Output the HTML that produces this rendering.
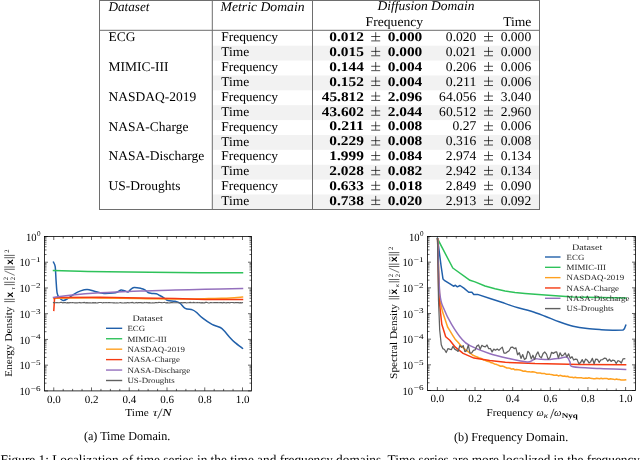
<!DOCTYPE html><html><head><meta charset="utf-8"><style>
html,body{margin:0;padding:0;background:#fff;width:640px;height:460px;overflow:hidden}
svg{display:block;will-change:transform} text{font-family:"Liberation Serif",serif;text-rendering:geometricPrecision}
</style></head><body><svg width="640" height="460" viewBox="0 0 640 460"><rect x="212.9" y="45.68" width="99" height="14.88" fill="#f2f2f2"/><rect x="313.1" y="45.68" width="226" height="14.88" fill="#f2f2f2"/><rect x="212.9" y="75.44" width="99" height="14.88" fill="#f2f2f2"/><rect x="313.1" y="75.44" width="226" height="14.88" fill="#f2f2f2"/><rect x="212.9" y="105.20" width="99" height="14.88" fill="#f2f2f2"/><rect x="313.1" y="105.20" width="226" height="14.88" fill="#f2f2f2"/><rect x="212.9" y="134.96" width="99" height="14.88" fill="#f2f2f2"/><rect x="313.1" y="134.96" width="226" height="14.88" fill="#f2f2f2"/><rect x="212.9" y="164.72" width="99" height="14.88" fill="#f2f2f2"/><rect x="313.1" y="164.72" width="226" height="14.88" fill="#f2f2f2"/><rect x="212.9" y="194.48" width="99" height="14.88" fill="#f2f2f2"/><rect x="313.1" y="194.48" width="226" height="14.88" fill="#f2f2f2"/><rect x="99" y="0" width="441" height="1" fill="#6e6e6e"/><rect x="99" y="29.8" width="441" height="1" fill="#6e6e6e"/><rect x="99" y="209" width="441" height="1" fill="#6e6e6e"/><rect x="99" y="0" width="1" height="210" fill="#6e6e6e"/><rect x="211.8" y="0" width="1" height="210" fill="#6e6e6e"/><rect x="312" y="0" width="1" height="210" fill="#6e6e6e"/><rect x="539" y="0" width="1" height="210" fill="#6e6e6e"/><text x="108.40" y="10.60" font-size="13.2" font-style="italic" text-anchor="start" fill="#000">Dataset</text><text x="220.60" y="10.50" font-size="13.2" font-style="italic" text-anchor="start" fill="#000" textLength="84.00" lengthAdjust="spacingAndGlyphs">Metric Domain</text><text x="377.40" y="10.40" font-size="13.2" font-style="italic" text-anchor="start" fill="#000" textLength="97.20" lengthAdjust="spacingAndGlyphs">Diffusion Domain</text><text x="365.60" y="25.90" font-size="13.2" text-anchor="start" fill="#000" textLength="57.60" lengthAdjust="spacingAndGlyphs">Frequency</text><text x="531.40" y="25.90" font-size="13.2" text-anchor="end" fill="#000" textLength="28.20" lengthAdjust="spacingAndGlyphs">Time</text><text x="108.50" y="41.40" font-size="13.2" text-anchor="start" fill="#000" textLength="26.98" lengthAdjust="spacingAndGlyphs">ECG</text><text x="221.20" y="41.40" font-size="13.2" text-anchor="start" fill="#000" textLength="56.83" lengthAdjust="spacingAndGlyphs">Frequency</text><text x="363.90" y="41.10" font-size="13.2" font-weight="bold" text-anchor="end" fill="#000" textLength="34.57" lengthAdjust="spacingAndGlyphs">0.012</text><path d="M371.20,36.50h9M375.70,32.20v8.3M371.20,40.90h9" stroke="#000" stroke-width="0.7" fill="none"/><text x="422.30" y="41.10" font-size="13.2" font-weight="bold" text-anchor="end" fill="#000" textLength="34.57" lengthAdjust="spacingAndGlyphs">0.000</text><text x="476.40" y="41.10" font-size="13.2" text-anchor="end" fill="#000" textLength="30.55" lengthAdjust="spacingAndGlyphs">0.020</text><path d="M484.00,36.50h9M488.50,32.20v8.3M484.00,40.90h9" stroke="#000" stroke-width="0.7" fill="none"/><text x="531.20" y="41.10" font-size="13.2" text-anchor="end" fill="#000" textLength="30.55" lengthAdjust="spacingAndGlyphs">0.000</text><text x="221.20" y="56.28" font-size="13.2" text-anchor="start" fill="#000" textLength="27.94" lengthAdjust="spacingAndGlyphs">Time</text><text x="363.90" y="55.98" font-size="13.2" font-weight="bold" text-anchor="end" fill="#000" textLength="34.57" lengthAdjust="spacingAndGlyphs">0.015</text><path d="M371.20,51.38h9M375.70,47.08v8.3M371.20,55.78h9" stroke="#000" stroke-width="0.7" fill="none"/><text x="422.30" y="55.98" font-size="13.2" font-weight="bold" text-anchor="end" fill="#000" textLength="34.57" lengthAdjust="spacingAndGlyphs">0.000</text><text x="476.40" y="55.98" font-size="13.2" text-anchor="end" fill="#000" textLength="30.55" lengthAdjust="spacingAndGlyphs">0.021</text><path d="M484.00,51.38h9M488.50,47.08v8.3M484.00,55.78h9" stroke="#000" stroke-width="0.7" fill="none"/><text x="531.20" y="55.98" font-size="13.2" text-anchor="end" fill="#000" textLength="30.55" lengthAdjust="spacingAndGlyphs">0.000</text><text x="108.50" y="71.16" font-size="13.2" text-anchor="start" fill="#000" textLength="59.94" lengthAdjust="spacingAndGlyphs">MIMIC-III</text><text x="221.20" y="71.16" font-size="13.2" text-anchor="start" fill="#000" textLength="56.83" lengthAdjust="spacingAndGlyphs">Frequency</text><text x="363.90" y="70.86" font-size="13.2" font-weight="bold" text-anchor="end" fill="#000" textLength="34.57" lengthAdjust="spacingAndGlyphs">0.144</text><path d="M371.20,66.26h9M375.70,61.96v8.3M371.20,70.66h9" stroke="#000" stroke-width="0.7" fill="none"/><text x="422.30" y="70.86" font-size="13.2" font-weight="bold" text-anchor="end" fill="#000" textLength="34.57" lengthAdjust="spacingAndGlyphs">0.004</text><text x="476.40" y="70.86" font-size="13.2" text-anchor="end" fill="#000" textLength="30.55" lengthAdjust="spacingAndGlyphs">0.206</text><path d="M484.00,66.26h9M488.50,61.96v8.3M484.00,70.66h9" stroke="#000" stroke-width="0.7" fill="none"/><text x="531.20" y="70.86" font-size="13.2" text-anchor="end" fill="#000" textLength="30.55" lengthAdjust="spacingAndGlyphs">0.006</text><text x="221.20" y="86.04" font-size="13.2" text-anchor="start" fill="#000" textLength="27.94" lengthAdjust="spacingAndGlyphs">Time</text><text x="363.90" y="85.74" font-size="13.2" font-weight="bold" text-anchor="end" fill="#000" textLength="34.57" lengthAdjust="spacingAndGlyphs">0.152</text><path d="M371.20,81.14h9M375.70,76.84v8.3M371.20,85.54h9" stroke="#000" stroke-width="0.7" fill="none"/><text x="422.30" y="85.74" font-size="13.2" font-weight="bold" text-anchor="end" fill="#000" textLength="34.57" lengthAdjust="spacingAndGlyphs">0.004</text><text x="476.40" y="85.74" font-size="13.2" text-anchor="end" fill="#000" textLength="30.55" lengthAdjust="spacingAndGlyphs">0.211</text><path d="M484.00,81.14h9M488.50,76.84v8.3M484.00,85.54h9" stroke="#000" stroke-width="0.7" fill="none"/><text x="531.20" y="85.74" font-size="13.2" text-anchor="end" fill="#000" textLength="30.55" lengthAdjust="spacingAndGlyphs">0.006</text><text x="108.50" y="100.92" font-size="13.2" text-anchor="start" fill="#000" textLength="87.69" lengthAdjust="spacingAndGlyphs">NASDAQ-2019</text><text x="221.20" y="100.92" font-size="13.2" text-anchor="start" fill="#000" textLength="56.83" lengthAdjust="spacingAndGlyphs">Frequency</text><text x="363.90" y="100.62" font-size="13.2" font-weight="bold" text-anchor="end" fill="#000" textLength="42.16" lengthAdjust="spacingAndGlyphs">45.812</text><path d="M371.20,96.02h9M375.70,91.72v8.3M371.20,100.42h9" stroke="#000" stroke-width="0.7" fill="none"/><text x="422.30" y="100.62" font-size="13.2" font-weight="bold" text-anchor="end" fill="#000" textLength="34.57" lengthAdjust="spacingAndGlyphs">2.096</text><text x="476.40" y="100.62" font-size="13.2" text-anchor="end" fill="#000" textLength="37.27" lengthAdjust="spacingAndGlyphs">64.056</text><path d="M484.00,96.02h9M488.50,91.72v8.3M484.00,100.42h9" stroke="#000" stroke-width="0.7" fill="none"/><text x="531.20" y="100.62" font-size="13.2" text-anchor="end" fill="#000" textLength="30.55" lengthAdjust="spacingAndGlyphs">3.040</text><text x="221.20" y="115.80" font-size="13.2" text-anchor="start" fill="#000" textLength="27.94" lengthAdjust="spacingAndGlyphs">Time</text><text x="363.90" y="115.50" font-size="13.2" font-weight="bold" text-anchor="end" fill="#000" textLength="42.16" lengthAdjust="spacingAndGlyphs">43.602</text><path d="M371.20,110.90h9M375.70,106.60v8.3M371.20,115.30h9" stroke="#000" stroke-width="0.7" fill="none"/><text x="422.30" y="115.50" font-size="13.2" font-weight="bold" text-anchor="end" fill="#000" textLength="34.57" lengthAdjust="spacingAndGlyphs">2.044</text><text x="476.40" y="115.50" font-size="13.2" text-anchor="end" fill="#000" textLength="37.27" lengthAdjust="spacingAndGlyphs">60.512</text><path d="M484.00,110.90h9M488.50,106.60v8.3M484.00,115.30h9" stroke="#000" stroke-width="0.7" fill="none"/><text x="531.20" y="115.50" font-size="13.2" text-anchor="end" fill="#000" textLength="30.55" lengthAdjust="spacingAndGlyphs">2.960</text><text x="108.50" y="130.68" font-size="13.2" text-anchor="start" fill="#000" textLength="79.93" lengthAdjust="spacingAndGlyphs">NASA-Charge</text><text x="221.20" y="130.68" font-size="13.2" text-anchor="start" fill="#000" textLength="56.83" lengthAdjust="spacingAndGlyphs">Frequency</text><text x="363.90" y="130.38" font-size="13.2" font-weight="bold" text-anchor="end" fill="#000" textLength="34.57" lengthAdjust="spacingAndGlyphs">0.211</text><path d="M371.20,125.78h9M375.70,121.48v8.3M371.20,130.18h9" stroke="#000" stroke-width="0.7" fill="none"/><text x="422.30" y="130.38" font-size="13.2" font-weight="bold" text-anchor="end" fill="#000" textLength="34.57" lengthAdjust="spacingAndGlyphs">0.008</text><text x="476.40" y="130.38" font-size="13.2" text-anchor="end" fill="#000" textLength="23.83" lengthAdjust="spacingAndGlyphs">0.27</text><path d="M484.00,125.78h9M488.50,121.48v8.3M484.00,130.18h9" stroke="#000" stroke-width="0.7" fill="none"/><text x="531.20" y="130.38" font-size="13.2" text-anchor="end" fill="#000" textLength="30.55" lengthAdjust="spacingAndGlyphs">0.006</text><text x="221.20" y="145.56" font-size="13.2" text-anchor="start" fill="#000" textLength="27.94" lengthAdjust="spacingAndGlyphs">Time</text><text x="363.90" y="145.26" font-size="13.2" font-weight="bold" text-anchor="end" fill="#000" textLength="34.57" lengthAdjust="spacingAndGlyphs">0.229</text><path d="M371.20,140.66h9M375.70,136.36v8.3M371.20,145.06h9" stroke="#000" stroke-width="0.7" fill="none"/><text x="422.30" y="145.26" font-size="13.2" font-weight="bold" text-anchor="end" fill="#000" textLength="34.57" lengthAdjust="spacingAndGlyphs">0.008</text><text x="476.40" y="145.26" font-size="13.2" text-anchor="end" fill="#000" textLength="30.55" lengthAdjust="spacingAndGlyphs">0.316</text><path d="M484.00,140.66h9M488.50,136.36v8.3M484.00,145.06h9" stroke="#000" stroke-width="0.7" fill="none"/><text x="531.20" y="145.26" font-size="13.2" text-anchor="end" fill="#000" textLength="30.55" lengthAdjust="spacingAndGlyphs">0.008</text><text x="108.50" y="160.44" font-size="13.2" text-anchor="start" fill="#000" textLength="95.67" lengthAdjust="spacingAndGlyphs">NASA-Discharge</text><text x="221.20" y="160.44" font-size="13.2" text-anchor="start" fill="#000" textLength="56.83" lengthAdjust="spacingAndGlyphs">Frequency</text><text x="363.90" y="160.14" font-size="13.2" font-weight="bold" text-anchor="end" fill="#000" textLength="34.57" lengthAdjust="spacingAndGlyphs">1.999</text><path d="M371.20,155.54h9M375.70,151.24v8.3M371.20,159.94h9" stroke="#000" stroke-width="0.7" fill="none"/><text x="422.30" y="160.14" font-size="13.2" font-weight="bold" text-anchor="end" fill="#000" textLength="34.57" lengthAdjust="spacingAndGlyphs">0.084</text><text x="476.40" y="160.14" font-size="13.2" text-anchor="end" fill="#000" textLength="30.55" lengthAdjust="spacingAndGlyphs">2.974</text><path d="M484.00,155.54h9M488.50,151.24v8.3M484.00,159.94h9" stroke="#000" stroke-width="0.7" fill="none"/><text x="531.20" y="160.14" font-size="13.2" text-anchor="end" fill="#000" textLength="30.55" lengthAdjust="spacingAndGlyphs">0.134</text><text x="221.20" y="175.32" font-size="13.2" text-anchor="start" fill="#000" textLength="27.94" lengthAdjust="spacingAndGlyphs">Time</text><text x="363.90" y="175.02" font-size="13.2" font-weight="bold" text-anchor="end" fill="#000" textLength="34.57" lengthAdjust="spacingAndGlyphs">2.028</text><path d="M371.20,170.42h9M375.70,166.12v8.3M371.20,174.82h9" stroke="#000" stroke-width="0.7" fill="none"/><text x="422.30" y="175.02" font-size="13.2" font-weight="bold" text-anchor="end" fill="#000" textLength="34.57" lengthAdjust="spacingAndGlyphs">0.082</text><text x="476.40" y="175.02" font-size="13.2" text-anchor="end" fill="#000" textLength="30.55" lengthAdjust="spacingAndGlyphs">2.942</text><path d="M484.00,170.42h9M488.50,166.12v8.3M484.00,174.82h9" stroke="#000" stroke-width="0.7" fill="none"/><text x="531.20" y="175.02" font-size="13.2" text-anchor="end" fill="#000" textLength="30.55" lengthAdjust="spacingAndGlyphs">0.134</text><text x="108.50" y="190.20" font-size="13.2" text-anchor="start" fill="#000" textLength="71.95" lengthAdjust="spacingAndGlyphs">US-Droughts</text><text x="221.20" y="190.20" font-size="13.2" text-anchor="start" fill="#000" textLength="56.83" lengthAdjust="spacingAndGlyphs">Frequency</text><text x="363.90" y="189.90" font-size="13.2" font-weight="bold" text-anchor="end" fill="#000" textLength="34.57" lengthAdjust="spacingAndGlyphs">0.633</text><path d="M371.20,185.30h9M375.70,181.00v8.3M371.20,189.70h9" stroke="#000" stroke-width="0.7" fill="none"/><text x="422.30" y="189.90" font-size="13.2" font-weight="bold" text-anchor="end" fill="#000" textLength="34.57" lengthAdjust="spacingAndGlyphs">0.018</text><text x="476.40" y="189.90" font-size="13.2" text-anchor="end" fill="#000" textLength="30.55" lengthAdjust="spacingAndGlyphs">2.849</text><path d="M484.00,185.30h9M488.50,181.00v8.3M484.00,189.70h9" stroke="#000" stroke-width="0.7" fill="none"/><text x="531.20" y="189.90" font-size="13.2" text-anchor="end" fill="#000" textLength="30.55" lengthAdjust="spacingAndGlyphs">0.090</text><text x="221.20" y="205.08" font-size="13.2" text-anchor="start" fill="#000" textLength="27.94" lengthAdjust="spacingAndGlyphs">Time</text><text x="363.90" y="204.78" font-size="13.2" font-weight="bold" text-anchor="end" fill="#000" textLength="34.57" lengthAdjust="spacingAndGlyphs">0.738</text><path d="M371.20,200.18h9M375.70,195.88v8.3M371.20,204.58h9" stroke="#000" stroke-width="0.7" fill="none"/><text x="422.30" y="204.78" font-size="13.2" font-weight="bold" text-anchor="end" fill="#000" textLength="34.57" lengthAdjust="spacingAndGlyphs">0.020</text><text x="476.40" y="204.78" font-size="13.2" text-anchor="end" fill="#000" textLength="30.55" lengthAdjust="spacingAndGlyphs">2.913</text><path d="M484.00,200.18h9M488.50,195.88v8.3M484.00,204.58h9" stroke="#000" stroke-width="0.7" fill="none"/><text x="531.20" y="204.78" font-size="13.2" text-anchor="end" fill="#000" textLength="30.55" lengthAdjust="spacingAndGlyphs">0.092</text><rect x="44.5" y="236.5" width="207.0" height="154.39999999999998" fill="none" stroke="#000" stroke-width="0.8"/><path d="M44.5,236.50h3.5M251.5,236.50h-3.5M44.5,254.49h2M251.5,254.49h-2M44.5,249.96h2M251.5,249.96h-2M44.5,246.74h2M251.5,246.74h-2M44.5,244.25h2M251.5,244.25h-2M44.5,242.21h2M251.5,242.21h-2M44.5,240.49h2M251.5,240.49h-2M44.5,238.99h2M251.5,238.99h-2M44.5,237.68h2M251.5,237.68h-2M44.5,262.23h3.5M251.5,262.23h-3.5M44.5,280.22h2M251.5,280.22h-2M44.5,275.69h2M251.5,275.69h-2M44.5,272.47h2M251.5,272.47h-2M44.5,269.98h2M251.5,269.98h-2M44.5,267.94h2M251.5,267.94h-2M44.5,266.22h2M251.5,266.22h-2M44.5,264.73h2M251.5,264.73h-2M44.5,263.41h2M251.5,263.41h-2M44.5,287.97h3.5M251.5,287.97h-3.5M44.5,305.95h2M251.5,305.95h-2M44.5,301.42h2M251.5,301.42h-2M44.5,298.21h2M251.5,298.21h-2M44.5,295.71h2M251.5,295.71h-2M44.5,293.68h2M251.5,293.68h-2M44.5,291.95h2M251.5,291.95h-2M44.5,290.46h2M251.5,290.46h-2M44.5,289.14h2M251.5,289.14h-2M44.5,313.70h3.5M251.5,313.70h-3.5M44.5,331.69h2M251.5,331.69h-2M44.5,327.16h2M251.5,327.16h-2M44.5,323.94h2M251.5,323.94h-2M44.5,321.45h2M251.5,321.45h-2M44.5,319.41h2M251.5,319.41h-2M44.5,317.69h2M251.5,317.69h-2M44.5,316.19h2M251.5,316.19h-2M44.5,314.88h2M251.5,314.88h-2M44.5,339.43h3.5M251.5,339.43h-3.5M44.5,357.42h2M251.5,357.42h-2M44.5,352.89h2M251.5,352.89h-2M44.5,349.67h2M251.5,349.67h-2M44.5,347.18h2M251.5,347.18h-2M44.5,345.14h2M251.5,345.14h-2M44.5,343.42h2M251.5,343.42h-2M44.5,341.93h2M251.5,341.93h-2M44.5,340.61h2M251.5,340.61h-2M44.5,365.17h3.5M251.5,365.17h-3.5M44.5,383.15h2M251.5,383.15h-2M44.5,378.62h2M251.5,378.62h-2M44.5,375.41h2M251.5,375.41h-2M44.5,372.91h2M251.5,372.91h-2M44.5,370.88h2M251.5,370.88h-2M44.5,369.15h2M251.5,369.15h-2M44.5,367.66h2M251.5,367.66h-2M44.5,366.34h2M251.5,366.34h-2M44.5,390.90h3.5M251.5,390.90h-3.5M53.75,390.9v-3.5M53.75,236.5v3.5M63.19,390.9v-2M63.19,236.5v2M72.62,390.9v-2M72.62,236.5v2M82.06,390.9v-2M82.06,236.5v2M91.50,390.9v-3.5M91.50,236.5v3.5M100.94,390.9v-2M100.94,236.5v2M110.38,390.9v-2M110.38,236.5v2M119.81,390.9v-2M119.81,236.5v2M129.25,390.9v-3.5M129.25,236.5v3.5M138.69,390.9v-2M138.69,236.5v2M148.12,390.9v-2M148.12,236.5v2M157.56,390.9v-2M157.56,236.5v2M167.00,390.9v-3.5M167.00,236.5v3.5M176.44,390.9v-2M176.44,236.5v2M185.88,390.9v-2M185.88,236.5v2M195.31,390.9v-2M195.31,236.5v2M204.75,390.9v-3.5M204.75,236.5v3.5M214.19,390.9v-2M214.19,236.5v2M223.62,390.9v-2M223.62,236.5v2M233.06,390.9v-2M233.06,236.5v2M242.50,390.9v-3.5M242.50,236.5v3.5" stroke="#000" stroke-width="0.6" fill="none"/><text x="40.60" y="236.40" font-size="7.4" text-anchor="end" textLength="3.6" lengthAdjust="spacingAndGlyphs">0</text><text x="36.50" y="240.70" font-size="11" text-anchor="end" textLength="10.6" lengthAdjust="spacingAndGlyphs">10</text><text x="40.60" y="262.13" font-size="7.4" text-anchor="end" textLength="9.8" lengthAdjust="spacingAndGlyphs">−1</text><text x="30.10" y="266.43" font-size="11" text-anchor="end" textLength="10.6" lengthAdjust="spacingAndGlyphs">10</text><text x="40.60" y="287.87" font-size="7.4" text-anchor="end" textLength="9.8" lengthAdjust="spacingAndGlyphs">−2</text><text x="30.10" y="292.17" font-size="11" text-anchor="end" textLength="10.6" lengthAdjust="spacingAndGlyphs">10</text><text x="40.60" y="313.60" font-size="7.4" text-anchor="end" textLength="9.8" lengthAdjust="spacingAndGlyphs">−3</text><text x="30.10" y="317.90" font-size="11" text-anchor="end" textLength="10.6" lengthAdjust="spacingAndGlyphs">10</text><text x="40.60" y="339.33" font-size="7.4" text-anchor="end" textLength="9.8" lengthAdjust="spacingAndGlyphs">−4</text><text x="30.10" y="343.63" font-size="11" text-anchor="end" textLength="10.6" lengthAdjust="spacingAndGlyphs">10</text><text x="40.60" y="365.07" font-size="7.4" text-anchor="end" textLength="9.8" lengthAdjust="spacingAndGlyphs">−5</text><text x="30.10" y="369.37" font-size="11" text-anchor="end" textLength="10.6" lengthAdjust="spacingAndGlyphs">10</text><text x="40.60" y="390.80" font-size="7.4" text-anchor="end" textLength="9.8" lengthAdjust="spacingAndGlyphs">−6</text><text x="30.10" y="395.10" font-size="11" text-anchor="end" textLength="10.6" lengthAdjust="spacingAndGlyphs">10</text><text x="53.75" y="402.60" font-size="11" text-anchor="middle">0.0</text><text x="91.50" y="402.60" font-size="11" text-anchor="middle">0.2</text><text x="129.25" y="402.60" font-size="11" text-anchor="middle">0.4</text><text x="167.00" y="402.60" font-size="11" text-anchor="middle">0.6</text><text x="204.75" y="402.60" font-size="11" text-anchor="middle">0.8</text><text x="242.50" y="402.60" font-size="11" text-anchor="middle">1.0</text><rect x="427.5" y="236.5" width="208.0" height="154.0" fill="none" stroke="#000" stroke-width="0.8"/><path d="M427.5,236.50h3.5M635.5,236.50h-3.5M427.5,254.44h2M635.5,254.44h-2M427.5,249.92h2M635.5,249.92h-2M427.5,246.71h2M635.5,246.71h-2M427.5,244.23h2M635.5,244.23h-2M427.5,242.19h2M635.5,242.19h-2M427.5,240.48h2M635.5,240.48h-2M427.5,238.99h2M635.5,238.99h-2M427.5,237.67h2M635.5,237.67h-2M427.5,262.17h3.5M635.5,262.17h-3.5M427.5,280.11h2M635.5,280.11h-2M427.5,275.59h2M635.5,275.59h-2M427.5,272.38h2M635.5,272.38h-2M427.5,269.89h2M635.5,269.89h-2M427.5,267.86h2M635.5,267.86h-2M427.5,266.14h2M635.5,266.14h-2M427.5,264.65h2M635.5,264.65h-2M427.5,263.34h2M635.5,263.34h-2M427.5,287.83h3.5M635.5,287.83h-3.5M427.5,305.77h2M635.5,305.77h-2M427.5,301.25h2M635.5,301.25h-2M427.5,298.05h2M635.5,298.05h-2M427.5,295.56h2M635.5,295.56h-2M427.5,293.53h2M635.5,293.53h-2M427.5,291.81h2M635.5,291.81h-2M427.5,290.32h2M635.5,290.32h-2M427.5,289.01h2M635.5,289.01h-2M427.5,313.50h3.5M635.5,313.50h-3.5M427.5,331.44h2M635.5,331.44h-2M427.5,326.92h2M635.5,326.92h-2M427.5,323.71h2M635.5,323.71h-2M427.5,321.23h2M635.5,321.23h-2M427.5,319.19h2M635.5,319.19h-2M427.5,317.48h2M635.5,317.48h-2M427.5,315.99h2M635.5,315.99h-2M427.5,314.67h2M635.5,314.67h-2M427.5,339.17h3.5M635.5,339.17h-3.5M427.5,357.11h2M635.5,357.11h-2M427.5,352.59h2M635.5,352.59h-2M427.5,349.38h2M635.5,349.38h-2M427.5,346.89h2M635.5,346.89h-2M427.5,344.86h2M635.5,344.86h-2M427.5,343.14h2M635.5,343.14h-2M427.5,341.65h2M635.5,341.65h-2M427.5,340.34h2M635.5,340.34h-2M427.5,364.83h3.5M635.5,364.83h-3.5M427.5,382.77h2M635.5,382.77h-2M427.5,378.25h2M635.5,378.25h-2M427.5,375.05h2M635.5,375.05h-2M427.5,372.56h2M635.5,372.56h-2M427.5,370.53h2M635.5,370.53h-2M427.5,368.81h2M635.5,368.81h-2M427.5,367.32h2M635.5,367.32h-2M427.5,366.01h2M635.5,366.01h-2M427.5,390.50h3.5M635.5,390.50h-3.5M437.40,390.5v-3.5M437.40,236.5v3.5M446.81,390.5v-2M446.81,236.5v2M456.22,390.5v-2M456.22,236.5v2M465.63,390.5v-2M465.63,236.5v2M475.04,390.5v-3.5M475.04,236.5v3.5M484.45,390.5v-2M484.45,236.5v2M493.86,390.5v-2M493.86,236.5v2M503.27,390.5v-2M503.27,236.5v2M512.68,390.5v-3.5M512.68,236.5v3.5M522.09,390.5v-2M522.09,236.5v2M531.50,390.5v-2M531.50,236.5v2M540.91,390.5v-2M540.91,236.5v2M550.32,390.5v-3.5M550.32,236.5v3.5M559.73,390.5v-2M559.73,236.5v2M569.14,390.5v-2M569.14,236.5v2M578.55,390.5v-2M578.55,236.5v2M587.96,390.5v-3.5M587.96,236.5v3.5M597.37,390.5v-2M597.37,236.5v2M606.78,390.5v-2M606.78,236.5v2M616.19,390.5v-2M616.19,236.5v2M625.60,390.5v-3.5M625.60,236.5v3.5" stroke="#000" stroke-width="0.6" fill="none"/><text x="423.60" y="236.40" font-size="7.4" text-anchor="end" textLength="3.6" lengthAdjust="spacingAndGlyphs">0</text><text x="419.50" y="240.70" font-size="11" text-anchor="end" textLength="10.6" lengthAdjust="spacingAndGlyphs">10</text><text x="423.60" y="262.07" font-size="7.4" text-anchor="end" textLength="9.8" lengthAdjust="spacingAndGlyphs">−1</text><text x="413.10" y="266.37" font-size="11" text-anchor="end" textLength="10.6" lengthAdjust="spacingAndGlyphs">10</text><text x="423.60" y="287.73" font-size="7.4" text-anchor="end" textLength="9.8" lengthAdjust="spacingAndGlyphs">−2</text><text x="413.10" y="292.03" font-size="11" text-anchor="end" textLength="10.6" lengthAdjust="spacingAndGlyphs">10</text><text x="423.60" y="313.40" font-size="7.4" text-anchor="end" textLength="9.8" lengthAdjust="spacingAndGlyphs">−3</text><text x="413.10" y="317.70" font-size="11" text-anchor="end" textLength="10.6" lengthAdjust="spacingAndGlyphs">10</text><text x="423.60" y="339.07" font-size="7.4" text-anchor="end" textLength="9.8" lengthAdjust="spacingAndGlyphs">−4</text><text x="413.10" y="343.37" font-size="11" text-anchor="end" textLength="10.6" lengthAdjust="spacingAndGlyphs">10</text><text x="423.60" y="364.73" font-size="7.4" text-anchor="end" textLength="9.8" lengthAdjust="spacingAndGlyphs">−5</text><text x="413.10" y="369.03" font-size="11" text-anchor="end" textLength="10.6" lengthAdjust="spacingAndGlyphs">10</text><text x="423.60" y="390.40" font-size="7.4" text-anchor="end" textLength="9.8" lengthAdjust="spacingAndGlyphs">−6</text><text x="413.10" y="394.70" font-size="11" text-anchor="end" textLength="10.6" lengthAdjust="spacingAndGlyphs">10</text><text x="437.40" y="402.20" font-size="11" text-anchor="middle">0.0</text><text x="475.04" y="402.20" font-size="11" text-anchor="middle">0.2</text><text x="512.68" y="402.20" font-size="11" text-anchor="middle">0.4</text><text x="550.32" y="402.20" font-size="11" text-anchor="middle">0.6</text><text x="587.96" y="402.20" font-size="11" text-anchor="middle">0.8</text><text x="625.60" y="402.20" font-size="11" text-anchor="middle">1.0</text><clipPath id="c1"><rect x="44.6" y="236.5" width="207.2" height="154.5"/></clipPath><clipPath id="c2"><rect x="428" y="236.5" width="207.1" height="154"/></clipPath><g clip-path="url(#c1)"><path d="M53.50,262.20C53.78,262.95 54.77,263.57 55.20,266.70C55.63,269.83 55.78,276.65 56.10,281.00C56.42,285.35 56.60,290.07 57.10,292.80C57.60,295.53 58.12,296.13 59.10,297.40C60.08,298.67 61.58,300.18 63.00,300.40C64.42,300.62 65.75,299.75 67.60,298.70C69.45,297.65 71.93,295.40 74.10,294.10C76.27,292.80 78.43,291.67 80.60,290.90C82.77,290.13 84.93,289.50 87.10,289.50C89.27,289.50 91.42,290.35 93.60,290.90C95.78,291.45 98.47,292.37 100.20,292.80C101.93,293.23 101.88,293.45 104.00,293.50C106.12,293.55 110.63,293.35 112.90,293.10C115.17,292.85 116.23,292.52 117.60,292.00C118.97,291.48 119.93,290.20 121.10,290.00C122.27,289.80 123.43,290.47 124.60,290.80C125.77,291.13 127.12,292.20 128.10,292.00C129.08,291.80 129.52,290.35 130.50,289.60C131.48,288.85 132.25,287.70 134.00,287.50C135.75,287.30 139.25,288.05 141.00,288.40C142.75,288.75 143.32,288.92 144.50,289.60C145.68,290.28 146.92,291.87 148.10,292.50C149.28,293.13 150.23,293.20 151.60,293.40C152.97,293.60 154.93,293.35 156.30,293.70C157.67,294.05 158.53,294.82 159.80,295.50C161.07,296.18 162.53,296.97 163.90,297.80C165.27,298.63 166.15,299.92 168.00,300.50C169.85,301.08 173.00,300.85 175.00,301.30C177.00,301.75 178.30,302.03 180.00,303.20C181.70,304.37 183.13,307.18 185.20,308.30C187.27,309.42 190.52,309.22 192.40,309.90C194.28,310.58 194.78,311.02 196.50,312.40C198.22,313.78 200.12,316.20 202.70,318.20C205.28,320.20 209.07,322.85 212.00,324.40C214.93,325.95 218.23,326.40 220.30,327.50C222.37,328.60 222.85,329.38 224.40,331.00C225.95,332.62 227.87,335.30 229.60,337.20C231.33,339.10 232.65,340.55 234.80,342.40C236.95,344.25 241.22,347.32 242.50,348.30" fill="none" stroke="#2160aa" stroke-width="1.5" stroke-linejoin="round" stroke-linecap="square"/><path d="M53.50,270.60C57.92,270.72 70.92,271.10 80.00,271.30C89.08,271.50 96.33,271.63 108.00,271.80C119.67,271.97 134.67,272.15 150.00,272.30C165.33,272.45 184.58,272.62 200.00,272.70C215.42,272.78 235.42,272.78 242.50,272.80" fill="none" stroke="#2ec25a" stroke-width="1.5" stroke-linejoin="round" stroke-linecap="square"/><path d="M53.80,298.40C56.50,298.33 62.30,298.08 70.00,298.00C77.70,297.92 88.33,297.80 100.00,297.90C111.67,298.00 127.50,298.43 140.00,298.60C152.50,298.77 165.83,298.83 175.00,298.90C184.17,298.97 188.33,299.08 195.00,299.00C201.67,298.92 209.17,298.57 215.00,298.40C220.83,298.23 225.42,298.23 230.00,298.00C234.58,297.77 240.42,297.17 242.50,297.00" fill="none" stroke="#ffa020" stroke-width="1.5" stroke-linejoin="round" stroke-linecap="square"/><path d="M53.80,310.40 L54.60,297.80 L60.00,297.60 L100.00,297.30 L140.00,298.00 L175.00,298.60 L205.00,299.60 L242.50,299.60" fill="none" stroke="#f53a12" stroke-width="1.5" stroke-linejoin="round" stroke-linecap="square"/><path d="M53.50,297.40C56.25,297.03 62.25,295.97 70.00,295.20C77.75,294.43 88.33,293.50 100.00,292.80C111.67,292.10 127.50,291.47 140.00,291.00C152.50,290.53 164.17,290.28 175.00,290.00C185.83,289.72 193.75,289.57 205.00,289.30C216.25,289.03 236.25,288.55 242.50,288.40" fill="none" stroke="#9470bd" stroke-width="1.5" stroke-linejoin="round" stroke-linecap="square"/><path d="M53.50,302.60 L54.50,302.54 L55.70,302.73 L56.90,302.62 L58.10,302.76 L59.30,302.78 L60.50,302.44 L61.70,302.41 L62.90,302.90 L64.10,302.56 L65.30,302.54 L66.50,303.00 L67.70,302.68 L68.90,302.90 L70.10,302.69 L71.30,302.78 L72.50,302.49 L73.70,302.78 L74.90,302.92 L76.10,302.71 L77.30,302.84 L78.50,302.80 L79.70,302.44 L80.90,302.85 L82.10,302.75 L83.30,302.58 L84.50,302.42 L85.70,302.92 L86.90,302.68 L88.10,302.83 L89.30,302.93 L90.50,302.83 L91.70,302.95 L92.90,302.64 L94.10,302.88 L95.30,302.67 L96.50,302.96 L97.70,302.93 L98.90,302.46 L100.10,302.48 L101.30,302.53 L102.50,302.98 L103.70,302.66 L104.90,302.78 L106.10,302.58 L107.30,302.70 L108.50,302.63 L109.70,302.61 L110.90,302.75 L112.10,302.75 L113.30,302.94 L114.50,302.81 L115.70,302.96 L116.90,302.91 L118.10,302.99 L119.30,302.80 L120.50,302.50 L121.70,302.92 L122.90,302.98 L124.10,302.94 L125.30,302.74 L126.50,302.83 L127.70,302.53 L128.90,302.90 L130.10,302.74 L131.30,302.57 L132.50,302.44 L133.70,302.91 L134.90,302.99 L136.10,302.45 L137.30,302.88 L138.50,302.65 L139.70,302.49 L140.90,302.58 L142.10,302.86 L143.30,302.92 L144.50,302.43 L145.70,302.77 L146.90,302.43 L148.10,302.83 L149.30,302.60 L150.50,302.93 L151.70,302.99 L152.90,302.70 L154.10,303.00 L155.30,302.59 L156.50,302.45 L157.70,302.76 L158.90,302.42 L160.10,302.52 L161.30,302.64 L162.50,302.77 L163.70,302.49 L164.90,302.43 L166.10,302.92 L167.30,302.59 L168.50,302.98 L169.70,302.94 L170.90,302.63 L172.10,302.68 L173.30,302.71 L174.50,302.79 L175.70,302.76 L176.90,302.74 L178.10,302.77 L179.30,302.96 L180.50,302.70 L181.70,302.66 L182.90,302.83 L184.10,302.54 L185.30,302.58 L186.50,302.99 L187.70,302.71 L188.90,302.73 L190.10,302.41 L191.30,302.65 L192.50,302.75 L193.70,302.41 L194.90,302.77 L196.10,302.78 L197.30,302.44 L198.50,302.78 L199.70,302.68 L200.90,302.81 L202.10,302.61 L203.30,302.82 L204.50,302.84 L205.70,302.41 L206.90,302.44 L208.10,302.81 L209.30,302.98 L210.50,302.55 L211.70,302.67 L212.90,302.76 L214.10,302.59 L215.30,302.62 L216.50,302.59 L217.70,302.62 L218.90,302.76 L220.10,302.58 L221.30,302.63 L222.50,302.86 L223.70,302.42 L224.90,302.74 L226.10,302.84 L227.30,302.59 L228.50,302.53 L229.70,302.88 L230.90,302.54 L232.10,302.51 L233.30,302.66 L234.50,302.82 L235.70,302.46 L236.90,302.59 L238.10,302.60 L239.30,302.90 L240.50,302.66 L241.70,302.91 L242.50,302.70" fill="none" stroke="#606060" stroke-width="1.15" stroke-linejoin="round" stroke-linecap="square"/></g><g clip-path="url(#c2)"><path d="M437.50,238.50 L438.90,249.00 L441.10,266.00 L443.00,279.00 L444.30,280.30 L449.60,283.60 L453.50,286.20 L455.40,285.30 L457.40,286.80 L460.00,285.50 L463.90,288.20 L468.75,292.25 L471.90,292.25 L473.75,294.40 L477.50,294.40 L490.00,298.50 L502.50,302.50C504.58,303.23 510.21,305.44 515.00,306.90C519.79,308.36 526.25,309.70 531.25,311.25C536.25,312.80 540.36,314.44 545.00,316.20C549.64,317.96 554.42,320.13 559.10,321.80C563.78,323.47 568.42,325.07 573.10,326.20C577.78,327.33 582.50,328.02 587.20,328.60C591.90,329.18 596.62,329.42 601.30,329.70C605.98,329.98 612.97,330.20 615.30,330.30 L623.10,330.00 L624.50,328.60 L625.80,325.10" fill="none" stroke="#2160aa" stroke-width="1.5" stroke-linejoin="round" stroke-linecap="square"/><path d="M437.50,238.70 L452.80,268.00 L470.00,280.30 L475.00,281.90 L485.00,286.00 L495.00,288.75 L505.00,291.00 L515.00,292.50 L525.00,293.50 L545.00,295.10 L573.10,297.00 L625.80,297.90" fill="none" stroke="#2ec25a" stroke-width="1.5" stroke-linejoin="round" stroke-linecap="square"/><path d="M437.60,238.70 L439.60,298.30 L442.40,311.30 L444.13,316.53 L445.87,321.77 L447.60,327.00 L449.40,329.93 L451.20,332.85 L453.00,335.77 L454.80,338.70 L456.30,340.40 L457.80,342.10 L459.30,343.80 L460.80,345.50 L462.30,347.20 L464.00,348.50 L465.70,349.80 L467.40,351.10 L469.10,352.40 L470.80,353.70 L472.50,355.00 L474.06,355.69 L475.62,356.38 L477.19,357.06 L478.75,357.75 L480.31,358.28 L481.88,358.81 L483.44,359.95 L485.00,360.12 L486.56,361.12 L488.12,361.55 L489.69,361.86 L491.25,362.86 L492.81,363.02 L494.38,363.97 L495.94,364.23 L497.50,364.83 L499.06,365.52 L500.62,366.27 L502.18,366.03 L503.74,366.51 L505.30,367.26 L506.86,367.94 L508.42,368.00 L509.98,368.23 L511.54,369.14 L513.10,368.69 L514.80,369.74 L516.50,369.54 L518.20,369.72 L519.90,370.01 L521.60,370.50 L523.30,371.27 L525.00,371.01 L526.52,371.56 L528.04,371.81 L529.57,371.76 L531.09,372.11 L532.61,371.86 L534.13,372.05 L535.65,372.37 L537.17,372.99 L538.70,372.95 L540.22,373.04 L541.74,373.47 L543.26,373.55 L544.78,373.60 L546.31,374.23 L547.83,374.34 L549.35,374.12 L550.87,374.61 L552.39,374.75 L553.92,375.26 L555.44,375.32 L556.96,375.11 L558.48,375.93 L560.00,375.34 L561.53,375.80 L563.05,376.30 L564.57,375.94 L566.09,376.44 L567.61,376.22 L569.13,376.98 L570.66,377.26 L572.18,377.28 L573.70,377.74 L575.23,377.30 L576.75,377.72 L578.28,377.70 L579.81,377.75 L581.33,377.71 L582.86,378.13 L584.39,378.29 L585.91,377.94 L587.44,378.18 L588.96,377.71 L590.49,378.36 L592.02,378.38 L593.54,378.76 L595.07,378.68 L596.60,378.26 L598.12,378.43 L599.65,378.75 L601.18,378.24 L602.70,378.71 L604.23,378.51 L605.76,378.54 L607.28,378.56 L608.81,379.26 L610.34,378.76 L611.86,378.94 L613.39,379.14 L614.91,379.64 L616.44,379.00 L617.97,379.40 L619.49,379.56 L621.02,379.93 L622.55,379.95 L624.07,380.06 L625.60,379.80" fill="none" stroke="#ffa020" stroke-width="1.5" stroke-linejoin="round" stroke-linecap="square"/><path d="M437.60,238.70 L438.80,295.60 L439.80,306.00 L441.80,324.30 L445.70,336.70 L449.80,340.20 L455.30,347.20 L463.10,353.40 L474.00,358.10 L489.70,360.50 L505.30,362.30 L535.00,363.60 L580.00,364.50 L625.60,364.70" fill="none" stroke="#f53a12" stroke-width="1.5" stroke-linejoin="round" stroke-linecap="square"/><path d="M437.60,238.70C437.97,247.75 438.67,281.12 439.80,293.00C440.93,304.88 442.43,304.78 444.40,310.00C446.37,315.22 448.67,319.42 451.60,324.30C454.53,329.18 458.93,335.75 462.00,339.30C465.07,342.85 465.33,343.19 470.00,345.60C474.67,348.01 483.33,351.56 490.00,353.75C496.67,355.94 503.83,357.39 510.00,358.75C516.17,360.11 523.33,361.59 527.00,361.90C530.67,362.21 530.67,361.12 532.00,360.60C533.33,360.08 533.67,358.98 535.00,358.75C536.33,358.52 537.50,359.09 540.00,359.20C542.50,359.31 546.67,359.57 550.00,359.40C553.33,359.23 557.17,358.57 560.00,358.20C562.83,357.83 565.33,356.57 567.00,357.20C568.67,357.83 569.00,360.40 570.00,362.00C571.00,363.60 568.00,365.72 573.00,366.80C578.00,367.88 591.23,368.05 600.00,368.50C608.77,368.95 621.33,369.33 625.60,369.50" fill="none" stroke="#9470bd" stroke-width="1.5" stroke-linejoin="round" stroke-linecap="square"/><path d="M437.50,238.50 L438.50,300.00 L439.70,330.00 L441.25,344.80 L442.80,348.60 L444.50,349.50 L446.20,352.56 L447.90,348.71 L449.60,349.07 L451.30,349.73 L453.00,346.35 L454.70,349.10 L456.40,350.09 L458.10,351.46 L459.80,345.59 L461.50,347.35 L463.20,345.56 L464.90,351.60 L466.60,350.62 L468.30,345.15 L470.00,353.05 L471.70,352.90 L473.40,350.29 L475.10,349.97 L476.80,346.12 L478.50,344.93 L480.20,349.24 L481.90,345.30 L483.60,346.40 L485.30,346.83 L487.00,345.05 L488.70,348.70 L490.40,348.50 L492.10,351.88 L493.80,349.16 L495.50,350.18 L497.20,349.00 L498.90,350.36 L500.60,348.64 L502.30,347.14 L504.00,353.18 L505.70,353.16 L507.40,351.86 L509.10,350.75 L510.80,347.45 L512.50,347.04 L514.20,348.60 L515.90,347.83 L517.60,354.74 L519.30,352.73 L521.00,358.41 L522.70,354.55 L524.40,359.35 L526.10,358.42 L527.80,351.30 L529.50,353.06 L531.20,358.95 L532.90,355.25 L534.60,359.54 L536.30,354.64 L538.00,351.91 L539.70,356.59 L541.40,357.84 L543.10,353.57 L544.80,352.03 L546.50,354.09 L548.20,359.40 L549.90,357.67 L551.60,352.29 L553.30,353.37 L555.00,352.15 L556.70,351.80 L558.40,357.99 L560.10,352.79 L561.80,356.00 L563.50,355.06 L565.20,352.90 L566.90,356.89 L568.60,353.82 L570.30,358.39 L572.00,356.73 L573.70,360.06 L575.40,359.08 L577.10,359.42 L578.80,363.63 L580.50,362.62 L582.20,359.62 L583.90,363.11 L585.60,359.06 L587.30,360.17 L589.00,362.93 L590.70,361.65 L592.40,358.40 L594.10,363.74 L595.80,359.08 L597.50,359.35 L599.20,362.44 L600.90,359.77 L602.60,359.58 L604.30,358.24 L606.00,358.34 L607.70,361.30 L609.40,359.26 L611.10,361.41 L612.80,360.03 L614.50,360.52 L616.20,363.55 L617.90,360.70 L619.60,361.25 L621.30,363.00 L623.00,358.90 L624.70,358.72" fill="none" stroke="#606060" stroke-width="1.25" stroke-linejoin="round" stroke-linecap="square"/></g><text transform="translate(12.05,376.70) rotate(-90)" x="0" y="0" font-size="10.4" fill="#000" textLength="70.20" lengthAdjust="spacingAndGlyphs">Energy Density</text><path d="M4.20,301.60H14.80M4.20,299.30H14.80M4.20,284.60H14.80M4.20,282.30H14.80M4.20,269.30H14.80M4.20,267.00H14.80M4.20,257.70H14.80M4.20,255.40H14.80" stroke="#222" stroke-width="0.7"/><text transform="translate(9.60,294.60) rotate(-90)" x="0" y="3.00" font-size="10" text-anchor="middle" font-weight="bold" style="font-family:'Liberation Sans',sans-serif" fill="#000">x</text><text transform="translate(13.00,288.40) rotate(-90)" x="0" y="1.50" font-size="6.2" text-anchor="middle" font-style="italic" fill="#000">τ</text><text transform="translate(6.10,278.50) rotate(-90)" x="0" y="2.30" font-size="6.6" text-anchor="middle" fill="#000">2</text><text transform="translate(13.10,278.50) rotate(-90)" x="0" y="2.30" font-size="6.6" text-anchor="middle" fill="#000">2</text><path d="M14.60,275.30L4.60,270.90" stroke="#222" stroke-width="0.6"/><text transform="translate(9.60,261.90) rotate(-90)" x="0" y="3.00" font-size="10" text-anchor="middle" font-weight="bold" style="font-family:'Liberation Sans',sans-serif" fill="#000">x</text><text transform="translate(6.20,251.10) rotate(-90)" x="0" y="2.30" font-size="6.6" text-anchor="middle" fill="#000">2</text><text transform="translate(396.60,378.90) rotate(-90)" x="0" y="0" font-size="10.4" fill="#000" textLength="74.90" lengthAdjust="spacingAndGlyphs">Spectral Density</text><path d="M388.75,298.80H399.35M388.75,296.50H399.35M388.75,281.80H399.35M388.75,279.50H399.35M388.75,266.50H399.35M388.75,264.20H399.35M388.75,254.90H399.35M388.75,252.60H399.35" stroke="#222" stroke-width="0.7"/><text transform="translate(394.15,291.80) rotate(-90)" x="0" y="3.00" font-size="10" text-anchor="middle" font-weight="bold" style="font-family:'Liberation Sans',sans-serif" fill="#000">x</text><text transform="translate(397.55,285.60) rotate(-90)" x="0" y="1.50" font-size="6.2" text-anchor="middle" font-style="italic" fill="#000">κ</text><text transform="translate(390.65,275.70) rotate(-90)" x="0" y="2.30" font-size="6.6" text-anchor="middle" fill="#000">2</text><text transform="translate(397.65,275.70) rotate(-90)" x="0" y="2.30" font-size="6.6" text-anchor="middle" fill="#000">2</text><path d="M399.15,272.50L389.15,268.10" stroke="#222" stroke-width="0.6"/><text transform="translate(394.15,259.10) rotate(-90)" x="0" y="3.00" font-size="10" text-anchor="middle" font-weight="bold" style="font-family:'Liberation Sans',sans-serif" fill="#000">x</text><text transform="translate(390.75,248.30) rotate(-90)" x="0" y="2.30" font-size="6.6" text-anchor="middle" fill="#000">2</text><path d="M389.95,294.00c-1,-0.8 0.6,-1.6 -0.2,-2.2c-0.8,-0.6 0.6,-1.4 -0.2,-2.2" stroke="#333" stroke-width="0.55" fill="none"/><path d="M389.95,261.30c-1,-0.8 0.6,-1.6 -0.2,-2.2c-0.8,-0.6 0.6,-1.4 -0.2,-2.2" stroke="#333" stroke-width="0.55" fill="none"/><text x="125.20" y="415.70" font-size="10.6" text-anchor="start" fill="#000" textLength="23.60" lengthAdjust="spacingAndGlyphs">Time</text><text x="152.80" y="415.70" font-size="10.6" font-style="italic" text-anchor="start" fill="#000" textLength="4.80" lengthAdjust="spacingAndGlyphs">τ</text><path d="M157.7,418.5L162.1,408.6" stroke="#000" stroke-width="0.7"/><text x="162.20" y="415.70" font-size="10.6" font-style="italic" text-anchor="start" fill="#000" textLength="9.40" lengthAdjust="spacingAndGlyphs">N</text><text x="486.60" y="415.90" font-size="10.6" text-anchor="start" fill="#000" textLength="46.60" lengthAdjust="spacingAndGlyphs">Frequency</text><text x="536.50" y="415.90" font-size="10.6" font-style="italic" text-anchor="start" fill="#000" textLength="7.20" lengthAdjust="spacingAndGlyphs">ω</text><text x="543.70" y="417.60" font-size="7.4" font-style="italic" text-anchor="start" fill="#000" textLength="4.30" lengthAdjust="spacingAndGlyphs">κ</text><path d="M550.4,418.6L554.0,408.8" stroke="#000" stroke-width="0.7"/><text x="554.10" y="415.90" font-size="10.6" font-style="italic" text-anchor="start" fill="#000" textLength="7.40" lengthAdjust="spacingAndGlyphs">ω</text><text x="561.70" y="417.80" font-size="7.4" font-weight="bold" text-anchor="start" fill="#000" textLength="16.00" lengthAdjust="spacingAndGlyphs">Nyq</text><text x="83.90" y="440.40" font-size="12.4" text-anchor="start" fill="#000" textLength="86.40" lengthAdjust="spacingAndGlyphs">(a) Time Domain.</text><text x="454.00" y="440.90" font-size="12.4" text-anchor="start" fill="#000" textLength="114.20" lengthAdjust="spacingAndGlyphs">(b) Frequency Domain.</text><text x="0.50" y="464.00" font-size="13.3" text-anchor="start" fill="#000" textLength="639.50" lengthAdjust="spacingAndGlyphs">Figure 1: Localization of time series in the time and frequency domains. Time series are more localized in the frequency</text><text x="132.60" y="321.10" font-size="8.6" text-anchor="start" fill="#262626" textLength="30.20" lengthAdjust="spacingAndGlyphs">Dataset</text><path d="M106.00,328.30H122.20" stroke="#2160aa" stroke-width="1.4"/><text x="127.40" y="331.10" font-size="7.9" text-anchor="start" fill="#262626" textLength="17.70" lengthAdjust="spacingAndGlyphs">ECG</text><path d="M106.00,338.74H122.20" stroke="#2ec25a" stroke-width="1.4"/><text x="127.40" y="341.54" font-size="7.9" text-anchor="start" fill="#262626" textLength="39.32" lengthAdjust="spacingAndGlyphs">MIMIC-III</text><path d="M106.00,349.18H122.20" stroke="#ffa020" stroke-width="1.4"/><text x="127.40" y="351.98" font-size="7.9" text-anchor="start" fill="#262626" textLength="57.52" lengthAdjust="spacingAndGlyphs">NASDAQ-2019</text><path d="M106.00,359.62H122.20" stroke="#f53a12" stroke-width="1.4"/><text x="127.40" y="362.42" font-size="7.9" text-anchor="start" fill="#262626" textLength="52.44" lengthAdjust="spacingAndGlyphs">NASA-Charge</text><path d="M106.00,370.06H122.20" stroke="#9470bd" stroke-width="1.4"/><text x="127.40" y="372.86" font-size="7.9" text-anchor="start" fill="#262626" textLength="62.76" lengthAdjust="spacingAndGlyphs">NASA-Discharge</text><path d="M106.00,380.50H122.20" stroke="#606060" stroke-width="1.4"/><text x="127.40" y="383.30" font-size="7.9" text-anchor="start" fill="#262626" textLength="47.20" lengthAdjust="spacingAndGlyphs">US-Droughts</text><text x="572.00" y="249.50" font-size="8.6" text-anchor="start" fill="#262626" textLength="30.20" lengthAdjust="spacingAndGlyphs">Dataset</text><path d="M545.00,257.00H560.50" stroke="#2160aa" stroke-width="1.4"/><text x="566.60" y="259.80" font-size="7.9" text-anchor="start" fill="#262626" textLength="17.70" lengthAdjust="spacingAndGlyphs">ECG</text><path d="M545.00,267.32H560.50" stroke="#2ec25a" stroke-width="1.4"/><text x="566.60" y="270.12" font-size="7.9" text-anchor="start" fill="#262626" textLength="39.32" lengthAdjust="spacingAndGlyphs">MIMIC-III</text><path d="M545.00,277.64H560.50" stroke="#ffa020" stroke-width="1.4"/><text x="566.60" y="280.44" font-size="7.9" text-anchor="start" fill="#262626" textLength="57.52" lengthAdjust="spacingAndGlyphs">NASDAQ-2019</text><path d="M545.00,287.96H560.50" stroke="#f53a12" stroke-width="1.4"/><text x="566.60" y="290.76" font-size="7.9" text-anchor="start" fill="#262626" textLength="52.44" lengthAdjust="spacingAndGlyphs">NASA-Charge</text><path d="M545.00,298.28H560.50" stroke="#9470bd" stroke-width="1.4"/><text x="566.60" y="301.08" font-size="7.9" text-anchor="start" fill="#262626" textLength="62.76" lengthAdjust="spacingAndGlyphs">NASA-Discharge</text><path d="M545.00,308.60H560.50" stroke="#606060" stroke-width="1.4"/><text x="566.60" y="311.40" font-size="7.9" text-anchor="start" fill="#262626" textLength="47.20" lengthAdjust="spacingAndGlyphs">US-Droughts</text></svg></body></html>
